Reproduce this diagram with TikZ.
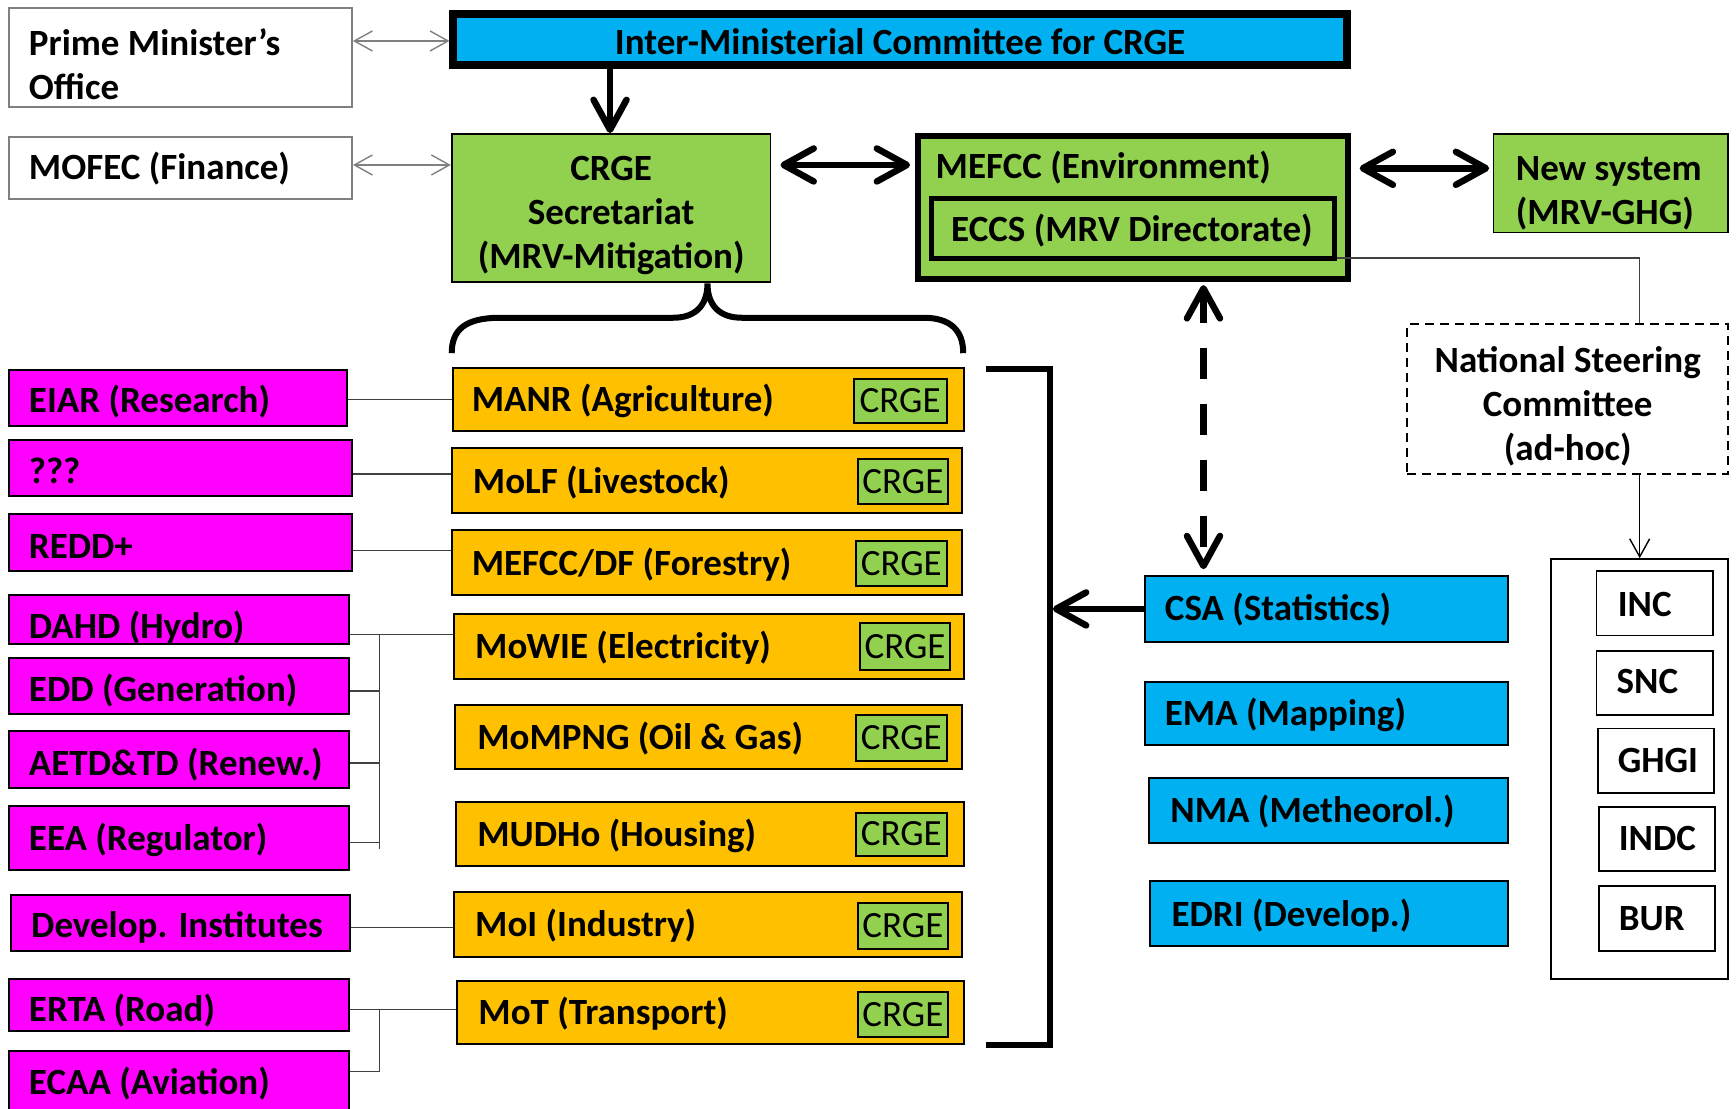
\documentclass[tikz,border=0pt]{standalone}
\usepackage{fontspec}
\setmainfont{Carlito}
\usetikzlibrary{arrows.meta,fit,calc}
\definecolor{cyanC}{HTML}{00B0F0}
\definecolor{grnC}{HTML}{92D050}
\definecolor{orgC}{HTML}{FFC000}
\definecolor{magC}{HTML}{FF00FF}
\newcommand\tf{\fontsize{37}{44}\selectfont}
\tikzset{
  txt/.style={inner sep=0pt, anchor=west, font=\tf\bfseries, text height=23.4pt, text depth=0pt},
  ctr/.style={txt, anchor=center},
  rtxt/.style={inner sep=0pt, anchor=center, font=\tf, text height=23.4pt, text depth=0pt},
  mtxt/.style={inner sep=0pt, font=\tf\bfseries, align=left, anchor=north west},
  ctxt/.style={inner sep=0pt, font=\tf\bfseries, align=center, anchor=north},
  pmbox/.style={draw=black!50, fill=white, line width=1.8pt, inner sep=0pt},
  imcbox/.style={draw=black, fill=cyanC, line width=8pt, inner sep=0pt},
  gbox/.style={draw=black, fill=grnC, line width=1.8pt, inner sep=0pt},
  gthick/.style={draw=black, fill=grnC, line width=6pt, inner sep=0pt},
  gmid/.style={draw=black, fill=grnC, line width=5pt, inner sep=0pt},
  obox/.style={draw=black, fill=orgC, line width=2pt, inner sep=0pt},
  cbox/.style={draw=black, fill=grnC, line width=2pt, inner sep=0pt},
  mbox/.style={draw=black, fill=magC, line width=2pt, inner sep=0pt},
  bbox/.style={draw=black, fill=cyanC, line width=2pt, inner sep=0pt},
  wbox/.style={draw=black, fill=white, line width=1.8pt, inner sep=0pt},
  dbox/.style={draw=black, fill=white, line width=1.8pt, dash pattern=on 9pt off 6pt, inner sep=0pt},
  thinln/.style={draw=black!75, line width=1.4pt},
  garrow/.style={draw=black!50, line width=1.4pt, {Straight Barb[length=18pt,width=20pt]}-{Straight Barb[length=18pt,width=20pt]}},
  narrow/.style={draw=black, line width=1.4pt, -{Straight Barb[length=18pt,width=20pt]}},
  barrow/.style={draw=black, line width=6.5pt, -{Straight Barb[length=30pt,width=33pt,round]}},
  bdarrow/.style={draw=black, line width=6.5pt, {Straight Barb[length=30pt,width=33pt,round]}-{Straight Barb[length=30pt,width=33pt,round]}},
  dasharrow/.style={bdarrow, dash pattern=on 31pt off 25pt},
  heavy/.style={draw=black, line width=6pt},
}
\begin{document}
\begin{tikzpicture}[x=1.10714pt, y=-1.10714pt]
\fill[white] (0,0) rectangle (1568,1001);
\useasboundingbox (0,0) rectangle (1568,1001);

% ---------- top row ----------
\node[pmbox, fit={(8,7) (318,97)}] (pm) {};
\node[mtxt] (pmt) at (26,26) {Prime Minister’s\\Office};
\node[pmbox, fit={(8,124) (318,180)}] (mofec) {};
\node[txt] (mofect) at (26,152) {MOFEC (Finance)};

\node[imcbox, fit={(409.6,12.6) (1216.4,58.4)}] (imc) {};
\node[ctr] (imct) at (813,39) {Inter-Ministerial Committee for CRGE};

\node[gbox, fit={(408,121) (696,255)}] (sec) {};
\node[ctxt] (sect) at (552,141) {CRGE\\Secretariat\\(MRV-Mitigation)};

\node[gthick, fit={(828.7,122.7) (1217.3,252.3)}] (mefcc) {};
\node[txt] (mefcct) at (845,151) {MEFCC (Environment)};
\node[gmid, fit={(841.3,179.3) (1205.7,233.7)}] (eccs) {};
\node[txt] (eccst) at (859,208) {ECCS (MRV Directorate)};

\node[gbox, fit={(1349,121) (1561,210)}] (newsys) {};
\node[mtxt] (newsyst) at (1369,141) {New system\\(MRV-GHG)};

\node[dbox, fit={(1271,293) (1561,428)}] (nsc) {};
\node[ctxt] (nsct) at (1416,313) {National Steering\\Committee\\(ad-hoc)};

% ---------- top connectors ----------
\draw[garrow] (pm.east |- 0,37) -- (imc.west |- 0,37);
\draw[garrow] (mofec.east |- 0,149) -- (sec.west |- 0,149);
\draw[barrow] (551,0 |- imc.south) -- (551,0 |- sec.north);
\draw[bdarrow, shorten <=9pt, shorten >=4.4pt] (sec.east |- 0,149) -- (mefcc.west |- 0,149);
\draw[bdarrow, shorten <=8.9pt, shorten >=3.5pt] (mefcc.east |- 0,152) -- (newsys.west |- 0,152);
\draw[thinln] (eccs.east |- 0,233) -- (1481,233) -- (1481,0 |- nsc.north);

% ---------- brace ----------
\draw[heavy] (408,319) .. controls (408,298) and (420,287) .. (452,287) -- (608,287)
  .. controls (628,287) and (639,276) .. (639,256)
  .. controls (639,276) and (650,287) .. (670,287) -- (834,287)
  .. controls (858,287) and (870,298) .. (870,319);

% ---------- sector ministries ----------
\node[obox, fit={(409,332) (871,389)}] (manr) {};
\node[txt] (manrt) at (426,361) {MANR (Agriculture)};
\node[cbox, fit={(771,342) (855,382)}] (c1) {};
\node[rtxt] (c1t) at (c1.center) {CRGE};

\node[obox, fit={(408,405) (869,463)}] (molf) {};
\node[txt] (molft) at (427,435) {MoLF (Livestock)};
\node[cbox, fit={(775,415) (856,455)}] (c2) {};
\node[rtxt] (c2t) at (c2.center) {CRGE};

\node[obox, fit={(408,479) (869,537)}] (df) {};
\node[txt] (dft) at (426,509) {MEFCC/DF (Forestry)};
\node[cbox, fit={(773,489) (855,529)}] (c3) {};
\node[rtxt] (c3t) at (c3.center) {CRGE};

\node[obox, fit={(410,555) (871,613)}] (mowie) {};
\node[txt] (mowiet) at (429,584) {MoWIE (Electricity)};
\node[cbox, fit={(777,563) (858,605)}] (c4) {};
\node[rtxt] (c4t) at (c4.center) {CRGE};

\node[obox, fit={(411,637) (869,695)}] (mompng) {};
\node[txt] (mompngt) at (431,666) {MoMPNG (Oil \& Gas)};
\node[cbox, fit={(773,646) (855,687)}] (c5) {};
\node[rtxt] (c5t) at (c5.center) {CRGE};

\node[obox, fit={(412,724) (871,782)}] (mudho) {};
\node[txt] (mudhot) at (431,754) {MUDHo (Housing)};
\node[cbox, fit={(773,734) (855,773)}] (c6) {};
\node[rtxt] (c6t) at (c6.center) {CRGE};

\node[obox, fit={(410,806) (869,864)}] (moi) {};
\node[txt] (moit) at (429,835) {MoI (Industry)};
\node[cbox, fit={(775,816) (856,857)}] (c7) {};
\node[rtxt] (c7t) at (c7.center) {CRGE};

\node[obox, fit={(413,886) (871,943)}] (mot) {};
\node[txt] (mott) at (432,915) {MoT (Transport)};
\node[cbox, fit={(775,896) (856,937)}] (c8) {};
\node[rtxt] (c8t) at (c8.center) {CRGE};

% ---------- agencies (magenta) ----------
\node[mbox, fit={(8,334) (313,385)}] (eiar) {};
\node[txt] (eiart) at (26,362) {EIAR (Research)};
\node[mbox, fit={(8,397) (318,448)}] (qqq) {};
\node[txt] (qqqt) at (26,426) {???};
\node[mbox, fit={(8,464) (318,516)}] (redd) {};
\node[txt] (reddt) at (26,494) {REDD+};
\node[mbox, fit={(8,537) (315,582)}] (dahd) {};
\node[txt] (dahdt) at (26,566) {DAHD (Hydro)};
\node[mbox, fit={(8,594) (315,645)}] (edd) {};
\node[txt] (eddt) at (26,623) {EDD (Generation)};
\node[mbox, fit={(8,660) (315,712)}] (aetd) {};
\node[txt] (aetdt) at (26,690) {AETD\&TD (Renew.)};
\node[mbox, fit={(8,728) (315,786)}] (eea) {};
\node[txt] (eeat) at (26,758) {EEA (Regulator)};
\node[mbox, fit={(10,808) (316,859)}] (dev) {};
\node[txt] (devt) at (28,836) {Develop. Institutes};
\node[mbox, fit={(8,884) (315,931)}] (erta) {};
\node[txt] (ertat) at (26,912) {ERTA (Road)};
\node[mbox, fit={(8,949) (315,1012)}] (ecaa) {};
\node[txt] (ecaat) at (26,978) {ECAA (Aviation)};

% ---------- agency links ----------
\draw[thinln] (eiar.east |- 0,361) -- (manr.west |- 0,361);
\draw[thinln] (qqq.east |- 0,428) -- (molf.west |- 0,428);
\draw[thinln] (redd.east |- 0,497) -- (df.west |- 0,497);
\draw[thinln] (dahd.east |- 0,573) -- (mowie.west |- 0,573);
\coordinate (spA) at (343,573);
\coordinate (spB) at (343,767);
\draw[thinln] (spA) -- (spB);
\draw[thinln] (edd.east |- 0,624) -- (spA |- 0,624);
\draw[thinln] (aetd.east |- 0,689) -- (spA |- 0,689);
\draw[thinln] (eea.east |- 0,761) -- (spA |- 0,761);
\draw[thinln] (dev.east |- 0,838) -- (moi.west |- 0,838);
\draw[thinln] (erta.east |- 0,912) -- (mot.west |- 0,912);
\coordinate (spC) at (343,911);
\coordinate (spD) at (343,968);
\draw[thinln] (spC) -- (spD);
\draw[thinln] (ecaa.east |- 0,968) -- (spD);

% ---------- bracket ----------
\coordinate (bkA) at (891,333);
\coordinate (bkB) at (948,333);
\coordinate (bkC) at (948,944);
\coordinate (bkD) at (891,944);
\coordinate (bkIn) at (951,550);
\draw[heavy] (bkA) -- (bkB) -- (bkC) -- (bkD);

% ---------- data providers (blue) ----------
\node[bbox, fit={(1034,520) (1362,580)}] (csa) {};
\node[txt] (csat) at (1052,550) {CSA (Statistics)};
\node[bbox, fit={(1034,616) (1362,673)}] (ema) {};
\node[txt] (emat) at (1052,645) {EMA (Mapping)};
\node[bbox, fit={(1038,703) (1362,761)}] (nma) {};
\node[txt] (nmat) at (1057,732) {NMA (Metheorol.)};
\node[bbox, fit={(1039,796) (1362,854)}] (edri) {};
\node[txt] (edrit) at (1058,826) {EDRI (Develop.)};

\draw[barrow] (csa.west) -- (bkIn);
\draw[dasharrow, shorten <=2.8pt, shorten >=5.5pt] (1087,0 |- mefcc.south) -- (1087,0 |- csa.north);

% ---------- reports ----------
\node[wbox, fit={(1401,505) (1561,884)}] (rep) {};
\draw[narrow] (1481,0 |- nsc.south) -- (1481,0 |- rep.north);
\node[wbox, fit={(1442,516) (1547,574)}] (inc) {};
\node[txt] (inct) at (1461,546) {INC};
\node[wbox, fit={(1442,588) (1547,646)}] (snc) {};
\node[txt] (snct) at (1460,616) {SNC};
\node[wbox, fit={(1443,658) (1548,716)}] (ghgi) {};
\node[txt] (ghgit) at (1461,687) {GHGI};
\node[wbox, fit={(1444,729) (1549,787)}] (indc) {};
\node[txt] (indct) at (1462,758) {INDC};
\node[wbox, fit={(1444,800) (1549,859)}] (bur) {};
\node[txt] (burt) at (1462,830) {BUR};
\end{tikzpicture}
\end{document}
